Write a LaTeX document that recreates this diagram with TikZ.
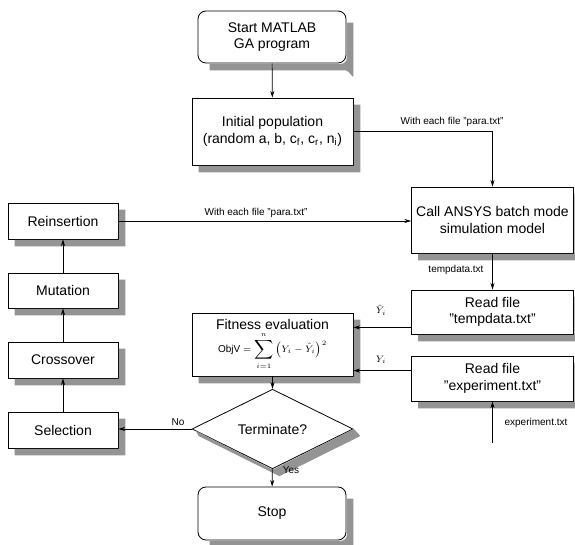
\documentclass[tikz,border=0pt]{standalone}
\usepackage{fontspec}
\setmainfont{Liberation Sans}
\usetikzlibrary{shapes.geometric,arrows.meta}
\begin{document}
\begin{tikzpicture}[x=0.75pt,y=-0.75pt,
  box/.style={draw=black,fill=white,line width=0.6pt,align=center,inner sep=1pt,font=\fontsize{10.5}{12.5}\selectfont},
  rbox/.style={box,rounded corners=6pt},
  dbox/.style={box,diamond,inner sep=0pt},
  shadowfill/.style={fill=black!42,draw=none},
  arr/.style={draw=black,line width=0.5pt,-{Stealth[length=5pt,width=3pt]}},
  lab/.style={font=\fontsize{7.5}{9}\selectfont,inner sep=1pt}]
\useasboundingbox (0,0) rectangle (575,545);
\node[rbox,minimum width=148*0.75pt,minimum height=52*0.75pt] (start) at (272,37) {Start MATLAB\\GA program};
\node[box,minimum width=161*0.75pt,minimum height=67*0.75pt] (init) at (272.5,131.5) {Initial population\\(random a, b, c\textsubscript{f}, c\textsubscript{r}, n\textsubscript{i})};
\node[box,minimum width=162*0.75pt,minimum height=66*0.75pt] (ansys) at (492.5,220) {Call ANSYS batch mode\\simulation model};
\node[box,minimum width=162*0.75pt,minimum height=44*0.75pt] (tempd) at (492.5,312) {Read file\\"tempdata.txt"};
\node[box,minimum width=162*0.75pt,minimum height=45*0.75pt] (exper) at (492.5,378.5) {Read file\\"experiment.txt"};
\node[box,minimum width=161*0.75pt,minimum height=63*0.75pt,inner sep=0pt] (fit) at (272.5,344.5) {Fitness evaluation\\[1pt]{\fontsize{7.5}{9}\selectfont ObjV $=\displaystyle\sum_{i=1}^{n}\left(Y_i-\hat{Y}_i\right)^{2}$}};
\node[dbox,minimum width=161*0.75pt,minimum height=44*0.75pt] (term) at (272.5,429) {Terminate?};
\node[rbox,minimum width=148*0.75pt,minimum height=53*0.75pt] (stop) at (272,513.5) {Stop};
\node[box,minimum width=110*0.75pt,minimum height=36*0.75pt] (reins) at (63,221) {Reinsertion};
\node[box,minimum width=110*0.75pt,minimum height=35*0.75pt] (mut) at (63,290.5) {Mutation};
\node[box,minimum width=110*0.75pt,minimum height=36*0.75pt] (cross) at (63,360) {Crossover};
\node[box,minimum width=110*0.75pt,minimum height=36*0.75pt] (sel) at (63,430) {Selection};
\coordinate (expin) at (492.5,443);
% shadows: visible L-shaped strips drawn beside each box
\foreach \n in {init,ansys,tempd,exper,fit,reins,mut,cross,sel}
  \fill[shadowfill] ([shift={(0.3pt,-5.25pt)}]\n.north east) -- ([shift={(5.25pt,-5.25pt)}]\n.north east)
    -- ([shift={(5.25pt,-5.25pt)}]\n.south east) -- ([shift={(5.25pt,-5.25pt)}]\n.south west)
    -- ([shift={(5.25pt,-0.3pt)}]\n.south west) -- ([shift={(0.3pt,-0.3pt)}]\n.south east) -- cycle;
\foreach \n in {start,stop}
  \fill[shadowfill] ([shift={(0.3pt,-9pt)}]\n.north east) -- ([shift={(5.25pt,-9pt)}]\n.north east)
    -- ([shift={(5.25pt,-9.5pt)}]\n.south east) to[out=-90,in=0] ([shift={(-0.5pt,-5.25pt)}]\n.south east)
    -- ([shift={(9pt,-5.25pt)}]\n.south west) -- ([shift={(9pt,-0.3pt)}]\n.south west)
    -- ([shift={(-4pt,-0.3pt)}]\n.south east) to[out=0,in=-90] ([shift={(0.3pt,4pt)}]\n.south east) -- cycle;
\fill[shadowfill] ([xshift=0.4pt]term.east) -- ([shift={(5.25pt,-5.25pt)}]term.east)
  -- ([shift={(5.25pt,-5.25pt)}]term.south) -- ([shift={(5.25pt,-5.25pt)}]term.west)
  -- ([shift={(3pt,-1.2pt)}]term.west) -- ([yshift=-0.4pt]term.south) -- cycle;
% connectors
\draw[arr] (start) -- (init);
\draw[arr] (init.east) -| (ansys.north);
\draw[arr] (reins.east) -- (reins.east -| ansys.west);
\draw[arr] (ansys) -- (tempd);
\draw[arr] ([yshift=5.25pt]tempd.south west) -- ([yshift=5.25pt]tempd.south west -| fit.east);
\draw[arr] ([yshift=-11.25pt]exper.north west) -- ([yshift=-11.25pt]exper.north west -| fit.east);
\draw[arr] (expin) -- (exper.south);
\draw[arr] (fit) -- (term);
\draw[arr] (term.west) -- (term.west -| sel.east);
\draw[arr] (term) -- (stop);
\draw[arr] (sel) -- (cross);
\draw[arr] (cross) -- (mut);
\draw[arr] (mut) -- (reins);
% labels
\node[lab] (l1) at (452,122) {With each file "para.txt"};
\node[lab] (l2) at (256,213) {With each file "para.txt"};
\node[lab] (l3) at (456,270) {tempdata.txt};
\node[lab] (l4) at (536,423) {experiment.txt};
\node[lab] (l5) at (178,422) {No};
\node[lab] (l6) at (291,470) {Yes};
\node[lab] (l7) at (381,310) {$\hat{Y}_i$};
\node[lab] (l8) at (381,360) {$Y_i$};
\end{tikzpicture}
\end{document}
